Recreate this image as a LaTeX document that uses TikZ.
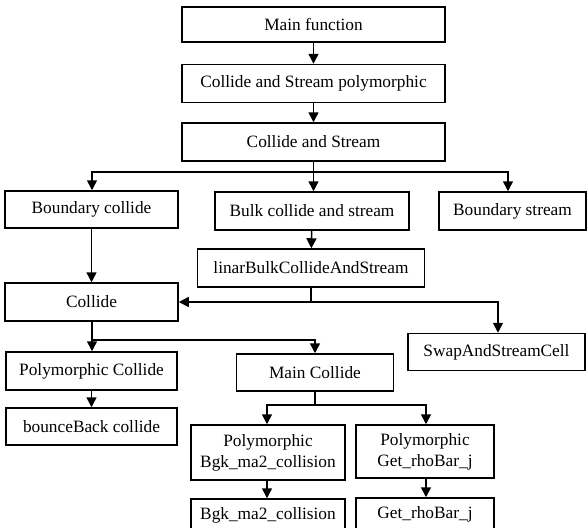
\documentclass[tikz,border=0pt]{standalone}
\usepackage{fontspec}
\setmainfont{Liberation Serif}
\usetikzlibrary{arrows.meta}
\begin{document}
\begin{tikzpicture}[x=1pt,y=-1pt,
  bx/.style={draw, line width=1.5pt, inner sep=0pt, align=center,
    font=\fontsize{17.3}{21}\selectfont},
  arr/.style={line width=1.5pt, -{Triangle[length=10pt,width=10pt]}},
  ln/.style={line width=1.5pt}]
\useasboundingbox (0,0) rectangle (587,528);
\clip (0,0) rectangle (587,528);
\node[bx, minimum width=263pt, minimum height=35pt] (main) at (313.5,24.5) {Main function};
\node[bx, minimum width=263pt, minimum height=38pt] (csp) at (313.5,83.5) {Collide and Stream polymorphic};
\node[bx, minimum width=263pt, minimum height=38pt] (cs) at (313.5,142) {Collide and Stream};
\node[bx, minimum width=173pt, minimum height=37pt] (bc) at (91.5,209.5) {Boundary collide};
\node[bx, minimum width=194pt, minimum height=38pt] (bulk) at (312,211) {Bulk collide and stream};
\node[bx, minimum width=147pt, minimum height=38pt] (bs) at (512.5,211) {Boundary stream};
\node[bx, minimum width=227pt, minimum height=38pt] (linar) at (311,268) {linarBulkCollideAndStream};
\node[bx, minimum width=173pt, minimum height=38pt] (collide) at (91.5,302) {Collide};
\node[bx, minimum width=177pt, minimum height=37pt] (swap) at (496.5,352) {SwapAndStreamCell};
\node[bx, minimum width=171pt, minimum height=38pt] (pcol) at (91.5,371) {Polymorphic Collide};
\node[bx, minimum width=171pt, minimum height=37pt] (bounce) at (91.5,426.5) {bounceBack collide};
\node[bx, minimum width=157pt, minimum height=37pt] (mcol) at (315,372.5) {Main Collide};
\node[bx, minimum width=154pt, minimum height=55pt] (pbgk) at (268,452.5) {Polymorphic\\Bgk\_ma2\_collision};
\node[bx, minimum width=138pt, minimum height=53pt] (pget) at (425,451.5) {Polymorphic\\Get\_rhoBar\_j};
\node[bx, minimum width=154pt, minimum height=32pt] (bgk) at (268,515) {Bgk\_ma2\_collision};
\node[bx, minimum width=138pt, minimum height=32pt] (get) at (425,514) {Get\_rhoBar\_j};
\coordinate (j1) at (313.5,172);
\coordinate (j2) at (311,302);
\coordinate (j3) at (92,340);
\coordinate (j4) at (315,405);
\draw[arr] (main) -- (csp);
\draw[arr] (csp) -- (cs);
\draw[ln] (cs.south) -- (j1);
\draw[arr] (j1) -| ([xshift=0.5pt]bc.north);
\draw[arr] (j1) -- (j1 |- bulk.north);
\draw[arr] (j1) -| ([xshift=-4.5pt]bs.north);
\draw[arr] (bulk) -- (linar);
\draw[arr] (bc) -- (collide);
\draw[ln] (linar.south) -- (j2);
\draw[arr] (j2) -- (collide.east);
\draw[arr] (j2) -| ([xshift=1.5pt]swap.north);
\draw[ln] (collide.south -| j3) -- (j3);
\draw[arr] (j3) -- (j3 |- pcol.north);
\draw[arr] (j3) -| (mcol.north);
\draw[arr] (pcol) -- (bounce);
\draw[ln] (mcol.south) -- (j4);
\draw[arr] (j4) -| ([xshift=-1pt]pbgk.north);
\draw[arr] (j4) -| ([xshift=1pt]pget.north);
\draw[arr] ([xshift=-1pt]pbgk.south) -- ([xshift=-1pt]bgk.north);
\draw[arr] ([xshift=1pt]pget.south) -- ([xshift=1pt]get.north);
\end{tikzpicture}
\end{document}
